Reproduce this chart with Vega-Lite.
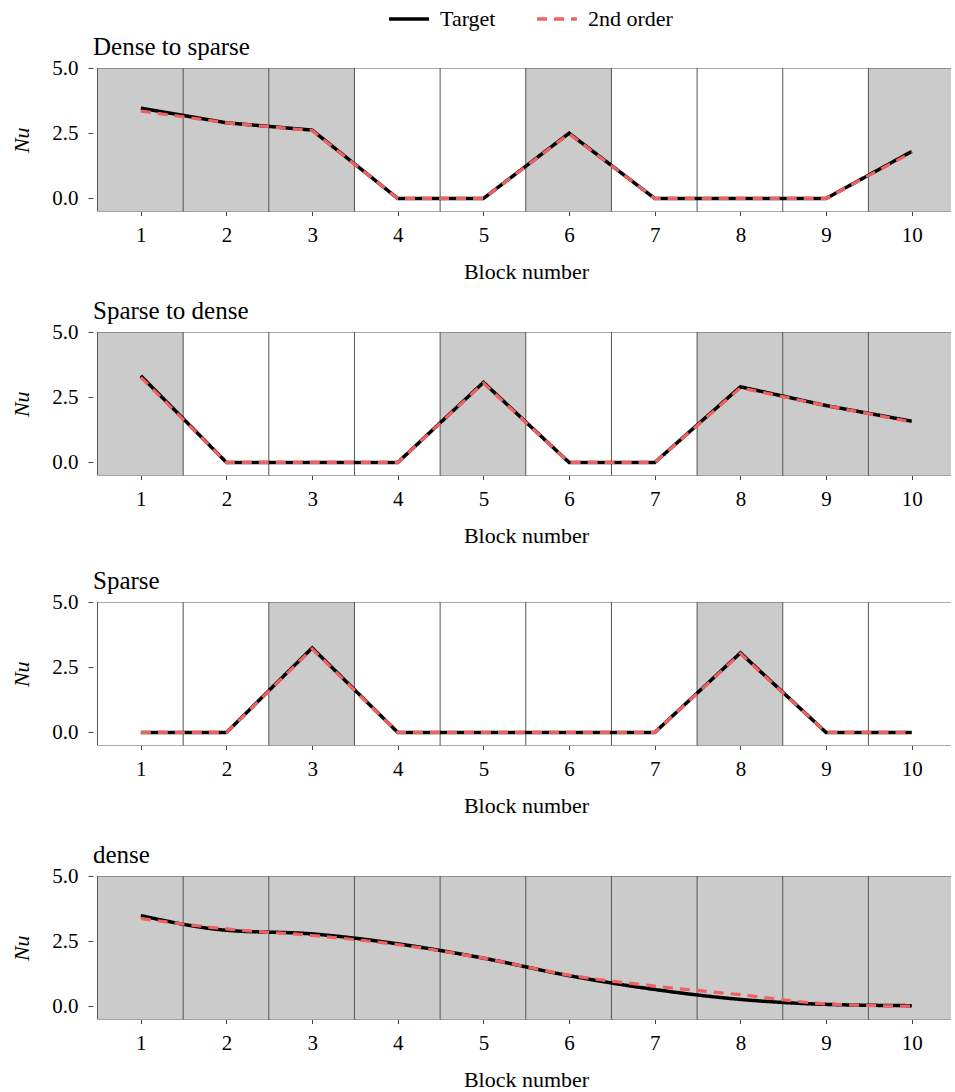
{
  "$schema": "https://vega.github.io/schema/vega-lite/v6.json",
  "background": "white",
  "padding": {"left": 10, "top": -3, "right": 0, "bottom": 0},
  "datasets": {
    "blocks": [
      {"panel": "Dense to sparse", "block": 1, "shade": "gray"},
      {"panel": "Dense to sparse", "block": 2, "shade": "gray"},
      {"panel": "Dense to sparse", "block": 3, "shade": "gray"},
      {"panel": "Dense to sparse", "block": 4, "shade": "white"},
      {"panel": "Dense to sparse", "block": 5, "shade": "white"},
      {"panel": "Dense to sparse", "block": 6, "shade": "gray"},
      {"panel": "Dense to sparse", "block": 7, "shade": "white"},
      {"panel": "Dense to sparse", "block": 8, "shade": "white"},
      {"panel": "Dense to sparse", "block": 9, "shade": "white"},
      {"panel": "Dense to sparse", "block": 10, "shade": "gray"},
      {"panel": "Sparse to dense", "block": 1, "shade": "gray"},
      {"panel": "Sparse to dense", "block": 2, "shade": "white"},
      {"panel": "Sparse to dense", "block": 3, "shade": "white"},
      {"panel": "Sparse to dense", "block": 4, "shade": "white"},
      {"panel": "Sparse to dense", "block": 5, "shade": "gray"},
      {"panel": "Sparse to dense", "block": 6, "shade": "white"},
      {"panel": "Sparse to dense", "block": 7, "shade": "white"},
      {"panel": "Sparse to dense", "block": 8, "shade": "gray"},
      {"panel": "Sparse to dense", "block": 9, "shade": "gray"},
      {"panel": "Sparse to dense", "block": 10, "shade": "gray"},
      {"panel": "Sparse", "block": 1, "shade": "white"},
      {"panel": "Sparse", "block": 2, "shade": "white"},
      {"panel": "Sparse", "block": 3, "shade": "gray"},
      {"panel": "Sparse", "block": 4, "shade": "white"},
      {"panel": "Sparse", "block": 5, "shade": "white"},
      {"panel": "Sparse", "block": 6, "shade": "white"},
      {"panel": "Sparse", "block": 7, "shade": "white"},
      {"panel": "Sparse", "block": 8, "shade": "gray"},
      {"panel": "Sparse", "block": 9, "shade": "white"},
      {"panel": "Sparse", "block": 10, "shade": "white"},
      {"panel": "dense", "block": 1, "shade": "gray"},
      {"panel": "dense", "block": 2, "shade": "gray"},
      {"panel": "dense", "block": 3, "shade": "gray"},
      {"panel": "dense", "block": 4, "shade": "gray"},
      {"panel": "dense", "block": 5, "shade": "gray"},
      {"panel": "dense", "block": 6, "shade": "gray"},
      {"panel": "dense", "block": 7, "shade": "gray"},
      {"panel": "dense", "block": 8, "shade": "gray"},
      {"panel": "dense", "block": 9, "shade": "gray"},
      {"panel": "dense", "block": 10, "shade": "gray"}
    ],
    "series": [
      {"panel": "Dense to sparse", "series": "Target", "block": 1, "nu": 3.46},
      {"panel": "Dense to sparse", "series": "Target", "block": 2, "nu": 2.9},
      {"panel": "Dense to sparse", "series": "Target", "block": 3, "nu": 2.62},
      {"panel": "Dense to sparse", "series": "Target", "block": 4, "nu": 0},
      {"panel": "Dense to sparse", "series": "Target", "block": 5, "nu": 0},
      {"panel": "Dense to sparse", "series": "Target", "block": 6, "nu": 2.5},
      {"panel": "Dense to sparse", "series": "Target", "block": 7, "nu": 0},
      {"panel": "Dense to sparse", "series": "Target", "block": 8, "nu": 0},
      {"panel": "Dense to sparse", "series": "Target", "block": 9, "nu": 0},
      {"panel": "Dense to sparse", "series": "Target", "block": 10, "nu": 1.8},
      {"panel": "Dense to sparse", "series": "2nd order", "block": 1, "nu": 3.35},
      {"panel": "Dense to sparse", "series": "2nd order", "block": 2, "nu": 2.9},
      {"panel": "Dense to sparse", "series": "2nd order", "block": 3, "nu": 2.6},
      {"panel": "Dense to sparse", "series": "2nd order", "block": 4, "nu": 0},
      {"panel": "Dense to sparse", "series": "2nd order", "block": 5, "nu": 0},
      {"panel": "Dense to sparse", "series": "2nd order", "block": 6, "nu": 2.48},
      {"panel": "Dense to sparse", "series": "2nd order", "block": 7, "nu": 0},
      {"panel": "Dense to sparse", "series": "2nd order", "block": 8, "nu": 0},
      {"panel": "Dense to sparse", "series": "2nd order", "block": 9, "nu": 0},
      {"panel": "Dense to sparse", "series": "2nd order", "block": 10, "nu": 1.76},
      {"panel": "Sparse to dense", "series": "Target", "block": 1, "nu": 3.32},
      {"panel": "Sparse to dense", "series": "Target", "block": 2, "nu": 0},
      {"panel": "Sparse to dense", "series": "Target", "block": 3, "nu": 0},
      {"panel": "Sparse to dense", "series": "Target", "block": 4, "nu": 0},
      {"panel": "Sparse to dense", "series": "Target", "block": 5, "nu": 3.07},
      {"panel": "Sparse to dense", "series": "Target", "block": 6, "nu": 0},
      {"panel": "Sparse to dense", "series": "Target", "block": 7, "nu": 0},
      {"panel": "Sparse to dense", "series": "Target", "block": 8, "nu": 2.9},
      {"panel": "Sparse to dense", "series": "Target", "block": 9, "nu": 2.18},
      {"panel": "Sparse to dense", "series": "Target", "block": 10, "nu": 1.58},
      {"panel": "Sparse to dense", "series": "2nd order", "block": 1, "nu": 3.26},
      {"panel": "Sparse to dense", "series": "2nd order", "block": 2, "nu": 0},
      {"panel": "Sparse to dense", "series": "2nd order", "block": 3, "nu": 0},
      {"panel": "Sparse to dense", "series": "2nd order", "block": 4, "nu": 0},
      {"panel": "Sparse to dense", "series": "2nd order", "block": 5, "nu": 3.04},
      {"panel": "Sparse to dense", "series": "2nd order", "block": 6, "nu": 0},
      {"panel": "Sparse to dense", "series": "2nd order", "block": 7, "nu": 0},
      {"panel": "Sparse to dense", "series": "2nd order", "block": 8, "nu": 2.86},
      {"panel": "Sparse to dense", "series": "2nd order", "block": 9, "nu": 2.18},
      {"panel": "Sparse to dense", "series": "2nd order", "block": 10, "nu": 1.55},
      {"panel": "Sparse", "series": "Target", "block": 1, "nu": 0},
      {"panel": "Sparse", "series": "Target", "block": 2, "nu": 0},
      {"panel": "Sparse", "series": "Target", "block": 3, "nu": 3.24},
      {"panel": "Sparse", "series": "Target", "block": 4, "nu": 0},
      {"panel": "Sparse", "series": "Target", "block": 5, "nu": 0},
      {"panel": "Sparse", "series": "Target", "block": 6, "nu": 0},
      {"panel": "Sparse", "series": "Target", "block": 7, "nu": 0},
      {"panel": "Sparse", "series": "Target", "block": 8, "nu": 3.05},
      {"panel": "Sparse", "series": "Target", "block": 9, "nu": 0},
      {"panel": "Sparse", "series": "Target", "block": 10, "nu": 0},
      {"panel": "Sparse", "series": "2nd order", "block": 1, "nu": 0},
      {"panel": "Sparse", "series": "2nd order", "block": 2, "nu": 0},
      {"panel": "Sparse", "series": "2nd order", "block": 3, "nu": 3.2},
      {"panel": "Sparse", "series": "2nd order", "block": 4, "nu": 0},
      {"panel": "Sparse", "series": "2nd order", "block": 5, "nu": 0},
      {"panel": "Sparse", "series": "2nd order", "block": 6, "nu": 0},
      {"panel": "Sparse", "series": "2nd order", "block": 7, "nu": 0},
      {"panel": "Sparse", "series": "2nd order", "block": 8, "nu": 3.02},
      {"panel": "Sparse", "series": "2nd order", "block": 9, "nu": 0},
      {"panel": "Sparse", "series": "2nd order", "block": 10, "nu": 0},
      {"panel": "dense", "series": "Target", "block": 1, "nu": 3.48},
      {"panel": "dense", "series": "Target", "block": 2, "nu": 2.92},
      {"panel": "dense", "series": "Target", "block": 3, "nu": 2.78},
      {"panel": "dense", "series": "Target", "block": 4, "nu": 2.4},
      {"panel": "dense", "series": "Target", "block": 5, "nu": 1.85},
      {"panel": "dense", "series": "Target", "block": 6, "nu": 1.18},
      {"panel": "dense", "series": "Target", "block": 7, "nu": 0.65},
      {"panel": "dense", "series": "Target", "block": 8, "nu": 0.27},
      {"panel": "dense", "series": "Target", "block": 9, "nu": 0.08},
      {"panel": "dense", "series": "Target", "block": 10, "nu": 0.03},
      {"panel": "dense", "series": "2nd order", "block": 1, "nu": 3.37},
      {"panel": "dense", "series": "2nd order", "block": 2, "nu": 2.97},
      {"panel": "dense", "series": "2nd order", "block": 3, "nu": 2.72},
      {"panel": "dense", "series": "2nd order", "block": 4, "nu": 2.37},
      {"panel": "dense", "series": "2nd order", "block": 5, "nu": 1.85},
      {"panel": "dense", "series": "2nd order", "block": 6, "nu": 1.2},
      {"panel": "dense", "series": "2nd order", "block": 7, "nu": 0.78},
      {"panel": "dense", "series": "2nd order", "block": 8, "nu": 0.45},
      {"panel": "dense", "series": "2nd order", "block": 9, "nu": 0.1},
      {"panel": "dense", "series": "2nd order", "block": 10, "nu": 0.01}
    ]
  },
  "config": {
    "view": {"stroke": null},
    "title": {"font": "Liberation Serif", "fontSize": 25, "fontWeight": "normal", "anchor": "start", "frame": "group", "color": "black", "offset": -3},
    "axis": {"tickColor": "#444", "domain": false, "grid": false},
    "legend": {"labelFont": "Liberation Serif", "labelFontSize": 22, "labelColor": "black", "padding": 0}
  },
  "vconcat": [
    {
      "spacing": 16,
      "vconcat": [
        {
          "width": 858, "height": 143.5,
          "title": "Dense to sparse",
          "encoding": {"x": {"field": "block", "type": "quantitative", "scale": {"domain": [0.5, 10.4], "nice": false, "zero": false}, "axis": {"values": [1,2,3,4,5,6,7,8,9,10], "format": "d", "tickSize": 4, "labelPadding": 9, "labelFont": "Liberation Serif", "labelFontSize": 21, "labelColor": "#000000", "titleFont": "Liberation Serif", "titleFontSize": 22, "titleFontWeight": "normal", "titleColor": "#000000", "title": "Block number", "titlePadding": 16, "titleX": 433}}},
          "layer": [
            {"data": {"name": "blocks"}, "transform": [{"filter": "datum.panel === 'Dense to sparse'"}],
             "mark": {"type": "bar", "width": 86.67, "stroke": "#555", "strokeWidth": 1, "clip": true},
             "encoding": {"y": {"datum": 5, "type": "quantitative", "scale": {"domain": [-0.5, 5], "nice": false, "zero": false}, "axis": {"values": [0, 2.5, 5], "format": ".1f", "tickSize": 5, "labelPadding": 10, "labelFont": "Liberation Serif", "labelFontSize": 21, "labelColor": "#000000", "titleFont": "Liberation Serif", "titleFontSize": 22, "titleFontWeight": "normal", "titleColor": "#000000", "title": "Nu", "titleFontStyle": "italic", "titlePadding": 18}}, "y2": {"datum": -0.5}, "fill": {"field": "shade", "type": "nominal", "scale": {"domain": ["gray", "white"], "range": ["#cbcbcb", "#ffffff"]}, "legend": null}}},
            {"data": {"name": "series"}, "transform": [{"filter": "datum.panel === 'Dense to sparse' && datum.series === 'Target'"}],
             "mark": {"type": "line", "strokeWidth": 3.5, "clip": true},
             "encoding": {"y": {"field": "nu", "type": "quantitative", "axis": {"values": [0, 2.5, 5], "format": ".1f", "tickSize": 5, "labelPadding": 10, "labelFont": "Liberation Serif", "labelFontSize": 21, "labelColor": "#000000", "titleFont": "Liberation Serif", "titleFontSize": 22, "titleFontWeight": "normal", "titleColor": "#000000", "title": "Nu", "titleFontStyle": "italic", "titlePadding": 18}},
               "color": {"field": "series", "type": "nominal", "scale": {"domain": ["Target", "2nd order"], "range": ["#000000", "#f06262"]}, "legend": {"title": null, "orient": "none", "legendX": 294, "legendY": -71, "direction": "horizontal", "symbolType": "stroke", "symbolSize": 1600, "symbolStrokeWidth": 3.5, "columnPadding": 34, "labelOffset": 9}},
               "strokeDash": {"field": "series", "type": "nominal", "scale": {"domain": ["Target", "2nd order"], "range": [[1, 0], [10, 7]]}}}},
            {"data": {"name": "series"}, "transform": [{"filter": "datum.panel === 'Dense to sparse' && datum.series === '2nd order'"}],
             "mark": {"type": "line", "strokeWidth": 3.2, "clip": true},
             "encoding": {"y": {"field": "nu", "type": "quantitative", "axis": {"values": [0, 2.5, 5], "format": ".1f", "tickSize": 5, "labelPadding": 10, "labelFont": "Liberation Serif", "labelFontSize": 21, "labelColor": "#000000", "titleFont": "Liberation Serif", "titleFontSize": 22, "titleFontWeight": "normal", "titleColor": "#000000", "title": "Nu", "titleFontStyle": "italic", "titlePadding": 18}},
               "color": {"field": "series", "type": "nominal"},
               "strokeDash": {"field": "series", "type": "nominal"}}}
          ]
        },
        {
          "width": 858, "height": 143.5,
          "title": "Sparse to dense",
          "encoding": {"x": {"field": "block", "type": "quantitative", "scale": {"domain": [0.5, 10.4], "nice": false, "zero": false}, "axis": {"values": [1,2,3,4,5,6,7,8,9,10], "format": "d", "tickSize": 4, "labelPadding": 9, "labelFont": "Liberation Serif", "labelFontSize": 21, "labelColor": "#000000", "titleFont": "Liberation Serif", "titleFontSize": 22, "titleFontWeight": "normal", "titleColor": "#000000", "title": "Block number", "titlePadding": 16, "titleX": 433}}},
          "layer": [
            {"data": {"name": "blocks"}, "transform": [{"filter": "datum.panel === 'Sparse to dense'"}],
             "mark": {"type": "bar", "width": 86.67, "stroke": "#555", "strokeWidth": 1, "clip": true},
             "encoding": {"y": {"datum": 5, "type": "quantitative", "scale": {"domain": [-0.5, 5], "nice": false, "zero": false}, "axis": {"values": [0, 2.5, 5], "format": ".1f", "tickSize": 5, "labelPadding": 10, "labelFont": "Liberation Serif", "labelFontSize": 21, "labelColor": "#000000", "titleFont": "Liberation Serif", "titleFontSize": 22, "titleFontWeight": "normal", "titleColor": "#000000", "title": "Nu", "titleFontStyle": "italic", "titlePadding": 18}}, "y2": {"datum": -0.5}, "fill": {"field": "shade", "type": "nominal", "scale": {"domain": ["gray", "white"], "range": ["#cbcbcb", "#ffffff"]}, "legend": null}}},
            {"data": {"name": "series"}, "transform": [{"filter": "datum.panel === 'Sparse to dense' && datum.series === 'Target'"}],
             "mark": {"type": "line", "strokeWidth": 3.5, "clip": true},
             "encoding": {"y": {"field": "nu", "type": "quantitative", "axis": {"values": [0, 2.5, 5], "format": ".1f", "tickSize": 5, "labelPadding": 10, "labelFont": "Liberation Serif", "labelFontSize": 21, "labelColor": "#000000", "titleFont": "Liberation Serif", "titleFontSize": 22, "titleFontWeight": "normal", "titleColor": "#000000", "title": "Nu", "titleFontStyle": "italic", "titlePadding": 18}},
               "color": {"field": "series", "type": "nominal"},
               "strokeDash": {"field": "series", "type": "nominal"}}},
            {"data": {"name": "series"}, "transform": [{"filter": "datum.panel === 'Sparse to dense' && datum.series === '2nd order'"}],
             "mark": {"type": "line", "strokeWidth": 3.2, "clip": true},
             "encoding": {"y": {"field": "nu", "type": "quantitative", "axis": {"values": [0, 2.5, 5], "format": ".1f", "tickSize": 5, "labelPadding": 10, "labelFont": "Liberation Serif", "labelFontSize": 21, "labelColor": "#000000", "titleFont": "Liberation Serif", "titleFontSize": 22, "titleFontWeight": "normal", "titleColor": "#000000", "title": "Nu", "titleFontStyle": "italic", "titlePadding": 18}},
               "color": {"field": "series", "type": "nominal"},
               "strokeDash": {"field": "series", "type": "nominal"}}}
          ]
        }
      ]
    },
    {
      "spacing": 26,
      "vconcat": [
        {
          "width": 858, "height": 143.5,
          "title": "Sparse",
          "encoding": {"x": {"field": "block", "type": "quantitative", "scale": {"domain": [0.5, 10.4], "nice": false, "zero": false}, "axis": {"values": [1,2,3,4,5,6,7,8,9,10], "format": "d", "tickSize": 4, "labelPadding": 9, "labelFont": "Liberation Serif", "labelFontSize": 21, "labelColor": "#000000", "titleFont": "Liberation Serif", "titleFontSize": 22, "titleFontWeight": "normal", "titleColor": "#000000", "title": "Block number", "titlePadding": 16, "titleX": 433}}},
          "layer": [
            {"data": {"name": "blocks"}, "transform": [{"filter": "datum.panel === 'Sparse'"}],
             "mark": {"type": "bar", "width": 86.67, "stroke": "#555", "strokeWidth": 1, "clip": true},
             "encoding": {"y": {"datum": 5, "type": "quantitative", "scale": {"domain": [-0.5, 5], "nice": false, "zero": false}, "axis": {"values": [0, 2.5, 5], "format": ".1f", "tickSize": 5, "labelPadding": 10, "labelFont": "Liberation Serif", "labelFontSize": 21, "labelColor": "#000000", "titleFont": "Liberation Serif", "titleFontSize": 22, "titleFontWeight": "normal", "titleColor": "#000000", "title": "Nu", "titleFontStyle": "italic", "titlePadding": 18}}, "y2": {"datum": -0.5}, "fill": {"field": "shade", "type": "nominal", "scale": {"domain": ["gray", "white"], "range": ["#cbcbcb", "#ffffff"]}, "legend": null}}},
            {"data": {"name": "series"}, "transform": [{"filter": "datum.panel === 'Sparse' && datum.series === 'Target'"}],
             "mark": {"type": "line", "strokeWidth": 3.5, "clip": true},
             "encoding": {"y": {"field": "nu", "type": "quantitative", "axis": {"values": [0, 2.5, 5], "format": ".1f", "tickSize": 5, "labelPadding": 10, "labelFont": "Liberation Serif", "labelFontSize": 21, "labelColor": "#000000", "titleFont": "Liberation Serif", "titleFontSize": 22, "titleFontWeight": "normal", "titleColor": "#000000", "title": "Nu", "titleFontStyle": "italic", "titlePadding": 18}},
               "color": {"field": "series", "type": "nominal"},
               "strokeDash": {"field": "series", "type": "nominal"}}},
            {"data": {"name": "series"}, "transform": [{"filter": "datum.panel === 'Sparse' && datum.series === '2nd order'"}],
             "mark": {"type": "line", "strokeWidth": 3.2, "clip": true},
             "encoding": {"y": {"field": "nu", "type": "quantitative", "axis": {"values": [0, 2.5, 5], "format": ".1f", "tickSize": 5, "labelPadding": 10, "labelFont": "Liberation Serif", "labelFontSize": 21, "labelColor": "#000000", "titleFont": "Liberation Serif", "titleFontSize": 22, "titleFontWeight": "normal", "titleColor": "#000000", "title": "Nu", "titleFontStyle": "italic", "titlePadding": 18}},
               "color": {"field": "series", "type": "nominal"},
               "strokeDash": {"field": "series", "type": "nominal"}}}
          ]
        },
        {
          "width": 858, "height": 143.5,
          "title": "dense",
          "encoding": {"x": {"field": "block", "type": "quantitative", "scale": {"domain": [0.5, 10.4], "nice": false, "zero": false}, "axis": {"values": [1,2,3,4,5,6,7,8,9,10], "format": "d", "tickSize": 4, "labelPadding": 9, "labelFont": "Liberation Serif", "labelFontSize": 21, "labelColor": "#000000", "titleFont": "Liberation Serif", "titleFontSize": 22, "titleFontWeight": "normal", "titleColor": "#000000", "title": "Block number", "titlePadding": 16, "titleX": 433}}},
          "layer": [
            {"data": {"name": "blocks"}, "transform": [{"filter": "datum.panel === 'dense'"}],
             "mark": {"type": "bar", "width": 86.67, "stroke": "#555", "strokeWidth": 1, "clip": true},
             "encoding": {"y": {"datum": 5, "type": "quantitative", "scale": {"domain": [-0.5, 5], "nice": false, "zero": false}, "axis": {"values": [0, 2.5, 5], "format": ".1f", "tickSize": 5, "labelPadding": 10, "labelFont": "Liberation Serif", "labelFontSize": 21, "labelColor": "#000000", "titleFont": "Liberation Serif", "titleFontSize": 22, "titleFontWeight": "normal", "titleColor": "#000000", "title": "Nu", "titleFontStyle": "italic", "titlePadding": 18}}, "y2": {"datum": -0.5}, "fill": {"field": "shade", "type": "nominal", "scale": {"domain": ["gray", "white"], "range": ["#cbcbcb", "#ffffff"]}, "legend": null}}},
            {"data": {"name": "series"}, "transform": [{"filter": "datum.panel === 'dense' && datum.series === 'Target'"}],
             "mark": {"type": "line", "strokeWidth": 3.5, "clip": true, "interpolate": "monotone"},
             "encoding": {"y": {"field": "nu", "type": "quantitative", "axis": {"values": [0, 2.5, 5], "format": ".1f", "tickSize": 5, "labelPadding": 10, "labelFont": "Liberation Serif", "labelFontSize": 21, "labelColor": "#000000", "titleFont": "Liberation Serif", "titleFontSize": 22, "titleFontWeight": "normal", "titleColor": "#000000", "title": "Nu", "titleFontStyle": "italic", "titlePadding": 18}},
               "color": {"field": "series", "type": "nominal"},
               "strokeDash": {"field": "series", "type": "nominal"}}},
            {"data": {"name": "series"}, "transform": [{"filter": "datum.panel === 'dense' && datum.series === '2nd order'"}],
             "mark": {"type": "line", "strokeWidth": 3.2, "clip": true, "interpolate": "monotone"},
             "encoding": {"y": {"field": "nu", "type": "quantitative", "axis": {"values": [0, 2.5, 5], "format": ".1f", "tickSize": 5, "labelPadding": 10, "labelFont": "Liberation Serif", "labelFontSize": 21, "labelColor": "#000000", "titleFont": "Liberation Serif", "titleFontSize": 22, "titleFontWeight": "normal", "titleColor": "#000000", "title": "Nu", "titleFontStyle": "italic", "titlePadding": 18}},
               "color": {"field": "series", "type": "nominal"},
               "strokeDash": {"field": "series", "type": "nominal"}}}
          ]
        }
      ]
    }
  ],
  "spacing": 22
}
